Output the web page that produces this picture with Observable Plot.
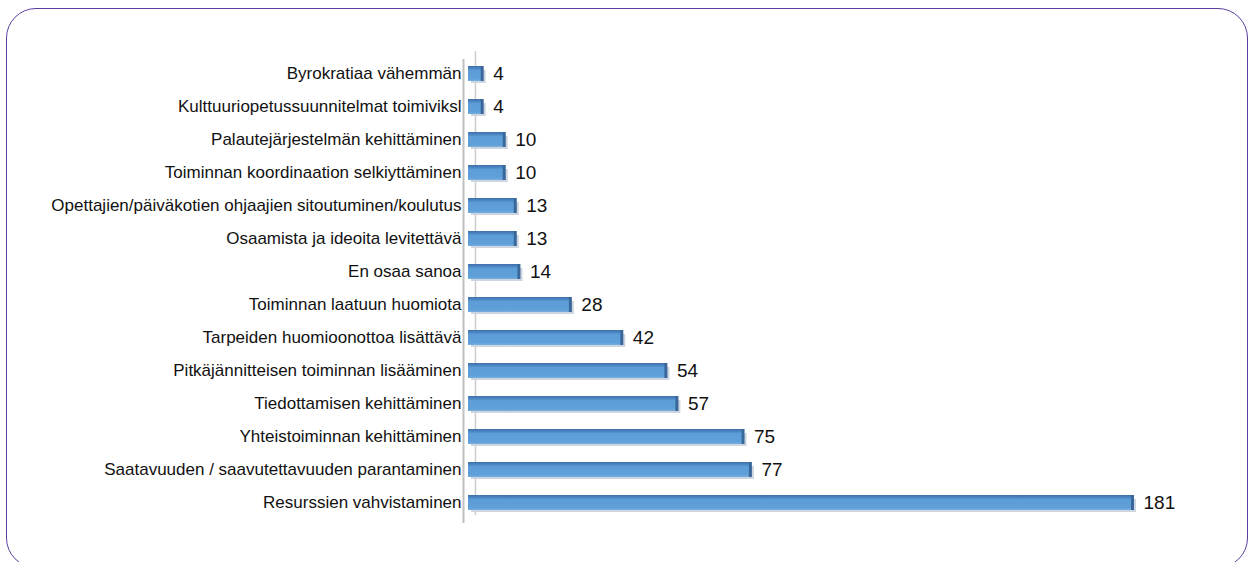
<!DOCTYPE html>
<html>
<head>
<meta charset="utf-8">
<script src="https://cdn.jsdelivr.net/npm/d3@7"></script>
<script src="https://cdn.jsdelivr.net/npm/@observablehq/plot@0.6"></script>
<style>
  html, body { margin: 0; padding: 0; background: #fff; width: 1250px; height: 562px; overflow: hidden; }
  #frame { position: absolute; left: 6px; top: 8px; width: 1242px; height: 560px; border: 1.5px solid #5b3f9e; border-radius: 30px; box-sizing: border-box; }
  #chart { position: absolute; left: 0; top: 0; }
  #chart svg { font-family: "Liberation Sans", Arial, Helvetica, sans-serif; }
</style>
</head>
<body>
<div id="frame"></div>
<div id="chart"></div>
<script>
const categories = [
  "Byrokratiaa vähemmän",
  "Kulttuuriopetussuunnitelmat toimiviksl",
  "Palautejärjestelmän kehittäminen",
  "Toiminnan koordinaation selkiyttäminen",
  "Opettajien/päiväkotien ohjaajien sitoutuminen/koulutus",
  "Osaamista ja ideoita levitettävä",
  "En osaa sanoa",
  "Toiminnan laatuun huomiota",
  "Tarpeiden huomioonottoa lisättävä",
  "Pitkäjännitteisen toiminnan lisääminen",
  "Tiedottamisen kehittäminen",
  "Yhteistoiminnan kehittäminen",
  "Saatavuuden / saavutettavuuden parantaminen",
  "Resurssien vahvistaminen"
];
const values = [4, 4, 10, 10, 13, 13, 14, 28, 42, 54, 57, 75, 77, 181];

const data = categories.map((c, i) => ({category: c, value: values[i]}));

const chart = Plot.plot({
  width: 1250,
  height: 562,
  marginLeft: 470,
  marginRight: 115,
  marginTop: 56,
  marginBottom: 42,
  style: {background: "transparent", fontSize: "17px", color: "#111"},
  x: {domain: [0, 181], axis: null},
  y: {domain: categories, paddingInner: 0.55, paddingOuter: 0.275, label: null, axis: null},
  marks: [
    // back wall of 3D chart
    Plot.ruleX([0], {dx: -7, dy: 3, stroke: "#c0c0c0", strokeWidth: 2}),
    Plot.ruleX([0], {dx: 5, dy: -5, stroke: "#cccccc", strokeWidth: 1.5}),
    // soft shadow under bars
    Plot.barX(data, {x: "value", y: "category", fill: "#cdd6e0", dy: 2, dx: 1, insetTop: 2}),
    Plot.barX(data, {x: "value", y: "category", fill: "url(#barGrad)", dx: -2}),
    Plot.tickX(data, {x: "value", y: "category", stroke: "#3a679a", strokeWidth: 3, dx: -3}),
    Plot.axisY({tickSize: 0, tickPadding: 9, fontSize: 17, fill: "#111", label: null}),
    Plot.text(data, {x: "value", y: "category", text: d => String(d.value), textAnchor: "start", dx: 8, fontSize: 19, fill: "#111"})
  ]
});

// bar gradient definition (3D-like shading)
const ns = "http://www.w3.org/2000/svg";
const defs = document.createElementNS(ns, "defs");
defs.innerHTML = `
  <linearGradient id="barGrad" x1="0" y1="0" x2="0" y2="1">
    <stop offset="0%" stop-color="#3f70a8"/>
    <stop offset="18%" stop-color="#4d88c6"/>
    <stop offset="30%" stop-color="#5c9dd8"/>
    <stop offset="85%" stop-color="#60a0d9"/>
    <stop offset="100%" stop-color="#78aedf"/>
  </linearGradient>`;
chart.insertBefore(defs, chart.firstChild);

document.getElementById("chart").appendChild(chart);
</script>
</body>
</html>
